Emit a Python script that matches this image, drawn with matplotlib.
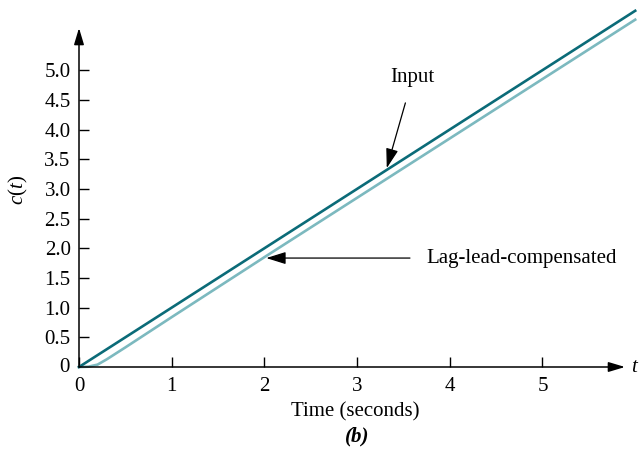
import matplotlib.pyplot as plt

# time (seconds) and responses
t_input = [0, 6.0]
c_input = [0, 6.0]

t_comp = [0, 0.1, 0.2, 0.3, 0.4, 0.5, 1.0, 2.0, 3.0, 4.0, 5.0, 6.0]
c_comp = [0, 0.005, 0.04, 0.13, 0.23, 0.33, 0.84, 1.85, 2.85, 3.85, 4.85, 5.85]

xticks = [0, 1, 2, 3, 4, 5]
yticks = [0.5, 1.0, 1.5, 2.0, 2.5, 3.0, 3.5, 4.0, 4.5, 5.0]

plt.rcParams['font.family'] = ['Liberation Serif', 'DejaVu Serif']
plt.rcParams['mathtext.fontset'] = 'custom'
plt.rcParams['mathtext.it'] = 'Liberation Serif:italic'
plt.rcParams['mathtext.rm'] = 'Liberation Serif'

fig = plt.figure(figsize=(6.4, 4.55), dpi=100)
xmax, ymax = 5.89, 5.71
ax = fig.add_axes([79 / 640, 88 / 455, 546 / 640, 339 / 455])
ax.set_xlim(0, xmax)
ax.set_ylim(0, ymax)

ax.plot(t_input, c_input, color='#0b6b78', lw=1.9, clip_on=False, zorder=3)
ax.plot(t_comp, c_comp, color='#7cb9bf', lw=1.9, clip_on=False, zorder=2)

for s in ax.spines.values():
    s.set_visible(False)

# axes with arrow heads
ax.annotate('', xy=(xmax, 0), xytext=(0, 0),
            arrowprops=dict(arrowstyle='-|>,head_length=1.0,head_width=0.3', color='black', lw=1.1,
                            shrinkA=0, shrinkB=0), annotation_clip=False)
ax.annotate('', xy=(0, ymax), xytext=(0, 0),
            arrowprops=dict(arrowstyle='-|>,head_length=1.0,head_width=0.3', color='black', lw=1.1,
                            shrinkA=0, shrinkB=0), annotation_clip=False)

ax.set_xticks(xticks)
ax.set_yticks(yticks)
ax.tick_params(direction='in', length=7, width=1, labelsize=15, pad=6)
ax.tick_params(axis='x', pad=7)
ax.text(-0.1, 0, '0', ha='right', va='center', fontsize=15)

ax.text(xmax + 0.07, 0, '$t$', ha='left', va='center', fontsize=15)
fig.text(18 / 640, 1 - 190 / 455, '$c(t)$', rotation=90, ha='center', va='center', fontsize=15)
fig.text(355 / 640, 1 - 412 / 455, 'Time (seconds)', ha='center', va='center', fontsize=15)
fig.text(357 / 640, 1 - 436 / 455, '(b)', ha='center', va='center', fontsize=15,
         fontweight='bold', fontstyle='italic')

ax.annotate('Input', xy=(3.32, 3.35), xytext=(3.6, 4.88), ha='center', va='center', fontsize=15,
            arrowprops=dict(arrowstyle='-|>,head_length=0.8,head_width=0.25', color='black', lw=0.9,
                            shrinkA=10, shrinkB=0))
ax.annotate('Lag-lead-compensated', xy=(2.02, 1.835), xytext=(3.75, 1.835), ha='left', va='center',
            fontsize=15,
            arrowprops=dict(arrowstyle='-|>,head_length=0.8,head_width=0.25', color='black', lw=0.9,
                            shrinkA=10, shrinkB=0))

fig.savefig('out.png', dpi=100)
